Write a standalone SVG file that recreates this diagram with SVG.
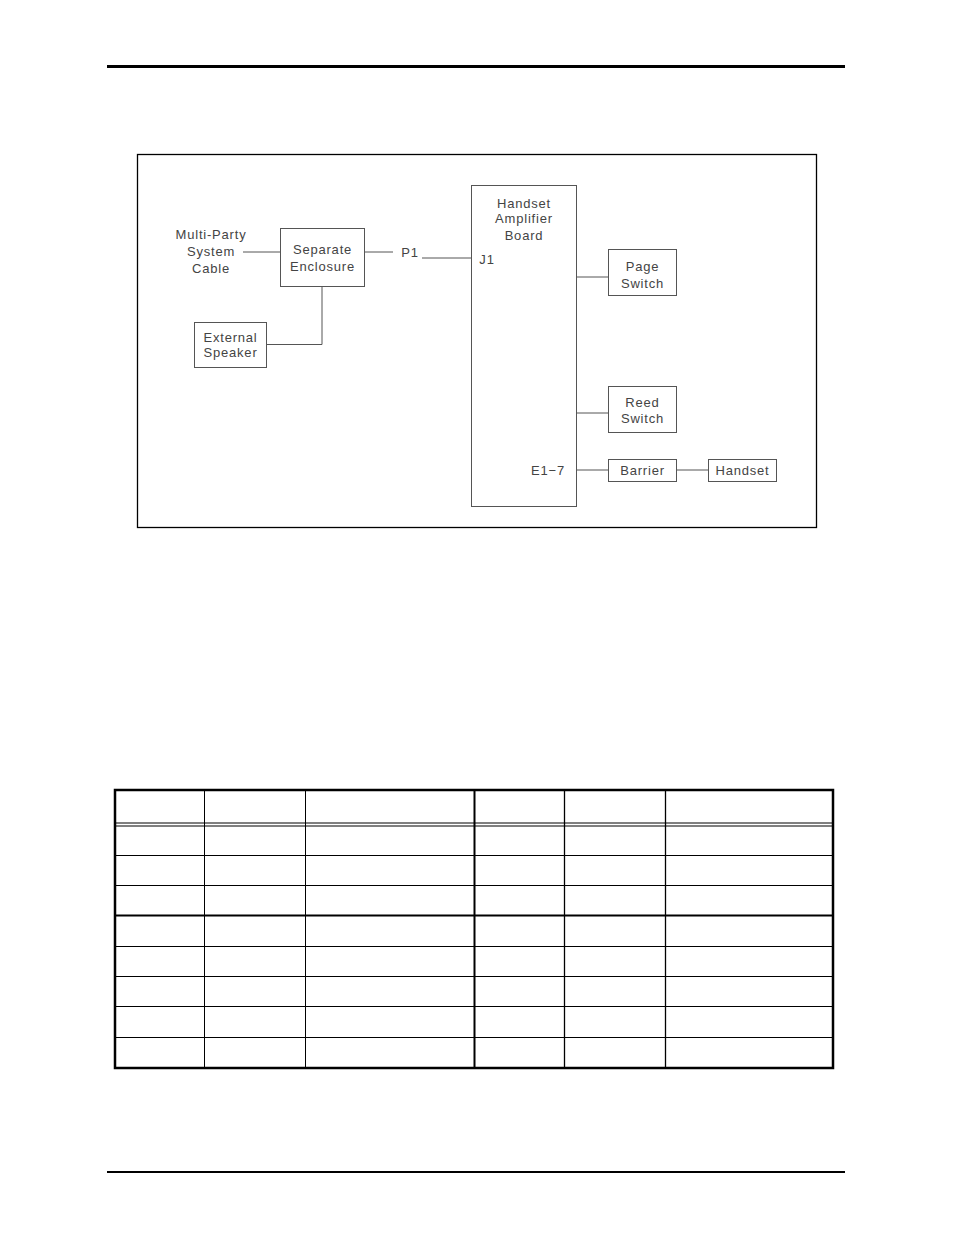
<svg xmlns="http://www.w3.org/2000/svg" width="954" height="1235" viewBox="0 0 954 1235">
<style>
.box{fill:none;stroke:#555;stroke-width:1}
.ln{fill:none;stroke:#555;stroke-width:1}
.t{font-family:"Liberation Sans",Arial,sans-serif;font-size:13px;fill:#444;letter-spacing:0.8px;text-anchor:middle;dominant-baseline:central}
.tb{fill:none;stroke:#000}
</style>
<rect width="954" height="1235" fill="#fff"/>
<line x1="107" y1="66.5" x2="845" y2="66.5" stroke="#000" stroke-width="3"/>
<line x1="107" y1="1172" x2="845" y2="1172" stroke="#000" stroke-width="2"/>
<rect x="137.5" y="154.5" width="679" height="373" fill="none" stroke="#000" stroke-width="1.3"/>

<g id="connectors">
<line class="ln" x1="243" y1="252" x2="280" y2="252"/>
<line class="ln" x1="364" y1="252" x2="393" y2="252"/>
<line class="ln" x1="422" y1="258" x2="471.5" y2="258"/>
<polyline class="ln" points="322,287 322,344.5 267,344.5"/>
<line class="ln" x1="576.5" y1="277" x2="608" y2="277"/>
<line class="ln" x1="576.5" y1="413" x2="608" y2="413"/>
<line class="ln" x1="576.5" y1="470" x2="608" y2="470"/>
<line class="ln" x1="677" y1="470" x2="708" y2="470"/>
</g>

<g id="multiparty-cable">
<text class="t" x="211" y="234">Multi-Party</text>
<text class="t" x="211" y="251">System</text>
<text class="t" x="211" y="268">Cable</text>
</g>
<g id="separate-enclosure">
<rect class="box" x="280.5" y="228.5" width="84" height="58"/>
<text class="t" x="322.5" y="249">Separate</text>
<text class="t" x="322.5" y="266">Enclosure</text>
</g>
<g id="p1">
<text class="t" x="410" y="252">P1</text>
</g>
<g id="external-speaker">
<rect class="box" x="194.5" y="322.5" width="72" height="45"/>
<text class="t" x="230.5" y="337">External</text>
<text class="t" x="230.5" y="352">Speaker</text>
</g>
<g id="handset-amplifier-board">
<rect class="box" x="471.5" y="185.5" width="105" height="321"/>
<text class="t" x="524" y="203">Handset</text>
<text class="t" x="524" y="218">Amplifier</text>
<text class="t" x="524" y="235">Board</text>
<text class="t" x="487" y="259">J1</text>
<text class="t" x="548" y="470">E1−7</text>
</g>
<g id="page-switch">
<rect class="box" x="608.5" y="249.5" width="68" height="46"/>
<text class="t" x="642.5" y="266">Page</text>
<text class="t" x="642.5" y="283">Switch</text>
</g>
<g id="reed-switch">
<rect class="box" x="608.5" y="386.5" width="68" height="46"/>
<text class="t" x="642.5" y="402">Reed</text>
<text class="t" x="642.5" y="418">Switch</text>
</g>
<g id="barrier">
<rect class="box" x="608.5" y="459.5" width="68" height="22"/>
<text class="t" x="642.5" y="470">Barrier</text>
</g>
<g id="handset">
<rect class="box" x="708.5" y="459.5" width="68" height="22"/>
<text class="t" x="742.5" y="470">Handset</text>
</g>

<g id="table">
<rect class="tb" x="115" y="790" width="718" height="278" stroke-width="2.5"/>
<line class="tb" x1="115" y1="823" x2="833" y2="823" stroke-width="1"/>
<line class="tb" x1="115" y1="826" x2="833" y2="826" stroke-width="1"/>
<line class="tb" x1="115" y1="855.5" x2="833" y2="855.5" stroke-width="1"/>
<line class="tb" x1="115" y1="885.5" x2="833" y2="885.5" stroke-width="1"/>
<line class="tb" x1="115" y1="915.5" x2="833" y2="915.5" stroke-width="2"/>
<line class="tb" x1="115" y1="946.5" x2="833" y2="946.5" stroke-width="1"/>
<line class="tb" x1="115" y1="976.5" x2="833" y2="976.5" stroke-width="1"/>
<line class="tb" x1="115" y1="1006.5" x2="833" y2="1006.5" stroke-width="1"/>
<line class="tb" x1="115" y1="1037.5" x2="833" y2="1037.5" stroke-width="1"/>
<line class="tb" x1="204.5" y1="790" x2="204.5" y2="1068" stroke-width="1"/>
<line class="tb" x1="305.5" y1="790" x2="305.5" y2="1068" stroke-width="1"/>
<line class="tb" x1="474.5" y1="790" x2="474.5" y2="1068" stroke-width="2"/>
<line class="tb" x1="564.5" y1="790" x2="564.5" y2="1068" stroke-width="1.3"/>
<line class="tb" x1="665.5" y1="790" x2="665.5" y2="1068" stroke-width="1.3"/>
</g>
</svg>
